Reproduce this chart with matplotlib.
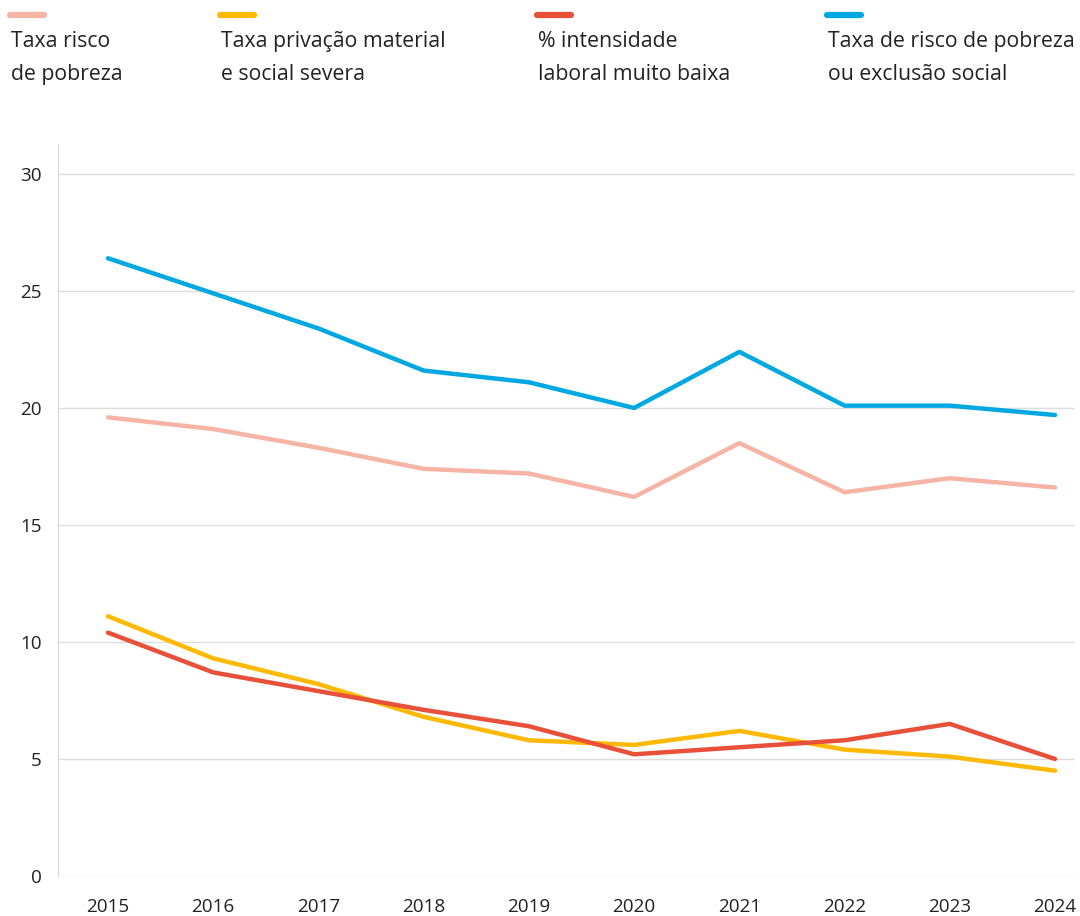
import matplotlib.pyplot as plt
from matplotlib.lines import Line2D

plt.rcParams['font.family'] = ['Open Sans', 'DejaVu Sans']

anos = [2015, 2016, 2017, 2018, 2019, 2020, 2021, 2022, 2023, 2024]

# valores
risco_pobreza = [19.6, 19.1, 18.3, 17.4, 17.2, 16.2, 18.5, 16.4, 17.0, 16.6]
privacao_severa = [11.1, 9.3, 8.2, 6.8, 5.8, 5.6, 6.2, 5.4, 5.1, 4.5]
intensidade_baixa = [10.4, 8.7, 7.9, 7.1, 6.4, 5.2, 5.5, 5.8, 6.5, 5.0]
risco_exclusao = [26.4, 24.9, 23.4, 21.6, 21.1, 20.0, 22.4, 20.1, 20.1, 19.7]

series = [
    (risco_pobreza, '#F5B4A4', 'Taxa risco\nde pobreza'),
    (privacao_severa, '#FFB900', 'Taxa privação material\ne social severa'),
    (intensidade_baixa, '#E8503A', '% intensidade\nlaboral muito baixa'),
    (risco_exclusao, '#00A8E1', 'Taxa de risco de pobreza\nou exclusão social'),
]

fig = plt.figure(figsize=(10.8, 9.16), dpi=100)
ax = fig.add_axes([0.0537, 0.0437, 0.9417, 0.798])

for vals, cor, nome in series:
    ax.plot(anos, vals, color=cor, lw=3.2, solid_capstyle='round',
            solid_joinstyle='round')

ax.set_xlim(2014.525, 2024.19)
ax.set_ylim(0, 31.24)
ax.set_yticks([0, 5, 10, 15, 20, 25, 30])
ax.set_xticks(anos)
ax.yaxis.grid(True, color='#dddddd', lw=1)
ax.set_axisbelow(True)
for s in ['top', 'right', 'bottom']:
    ax.spines[s].set_visible(False)
ax.spines['left'].set_color('#d6d6d6')
ax.tick_params(axis='both', length=0, labelsize=13.6, colors='#222222')
ax.tick_params(axis='y', pad=11.5)
ax.tick_params(axis='x', pad=16)

# legenda no topo
leg_x = [10, 220, 537, 827]
for (vals, cor, nome), x0 in zip(series, leg_x):
    fx = x0 / 1080
    fig.add_artist(Line2D([fx, fx + 34 / 1080], [1 - 15 / 916] * 2,
                          color=cor, lw=4.5, solid_capstyle='round',
                          transform=fig.transFigure))
    fig.text(fx + 1 / 1080, 1 - 31 / 916, nome, ha='left', va='top',
             fontsize=15.3, color='#222222', linespacing=1.72)

fig.savefig('out.png', dpi=100)
